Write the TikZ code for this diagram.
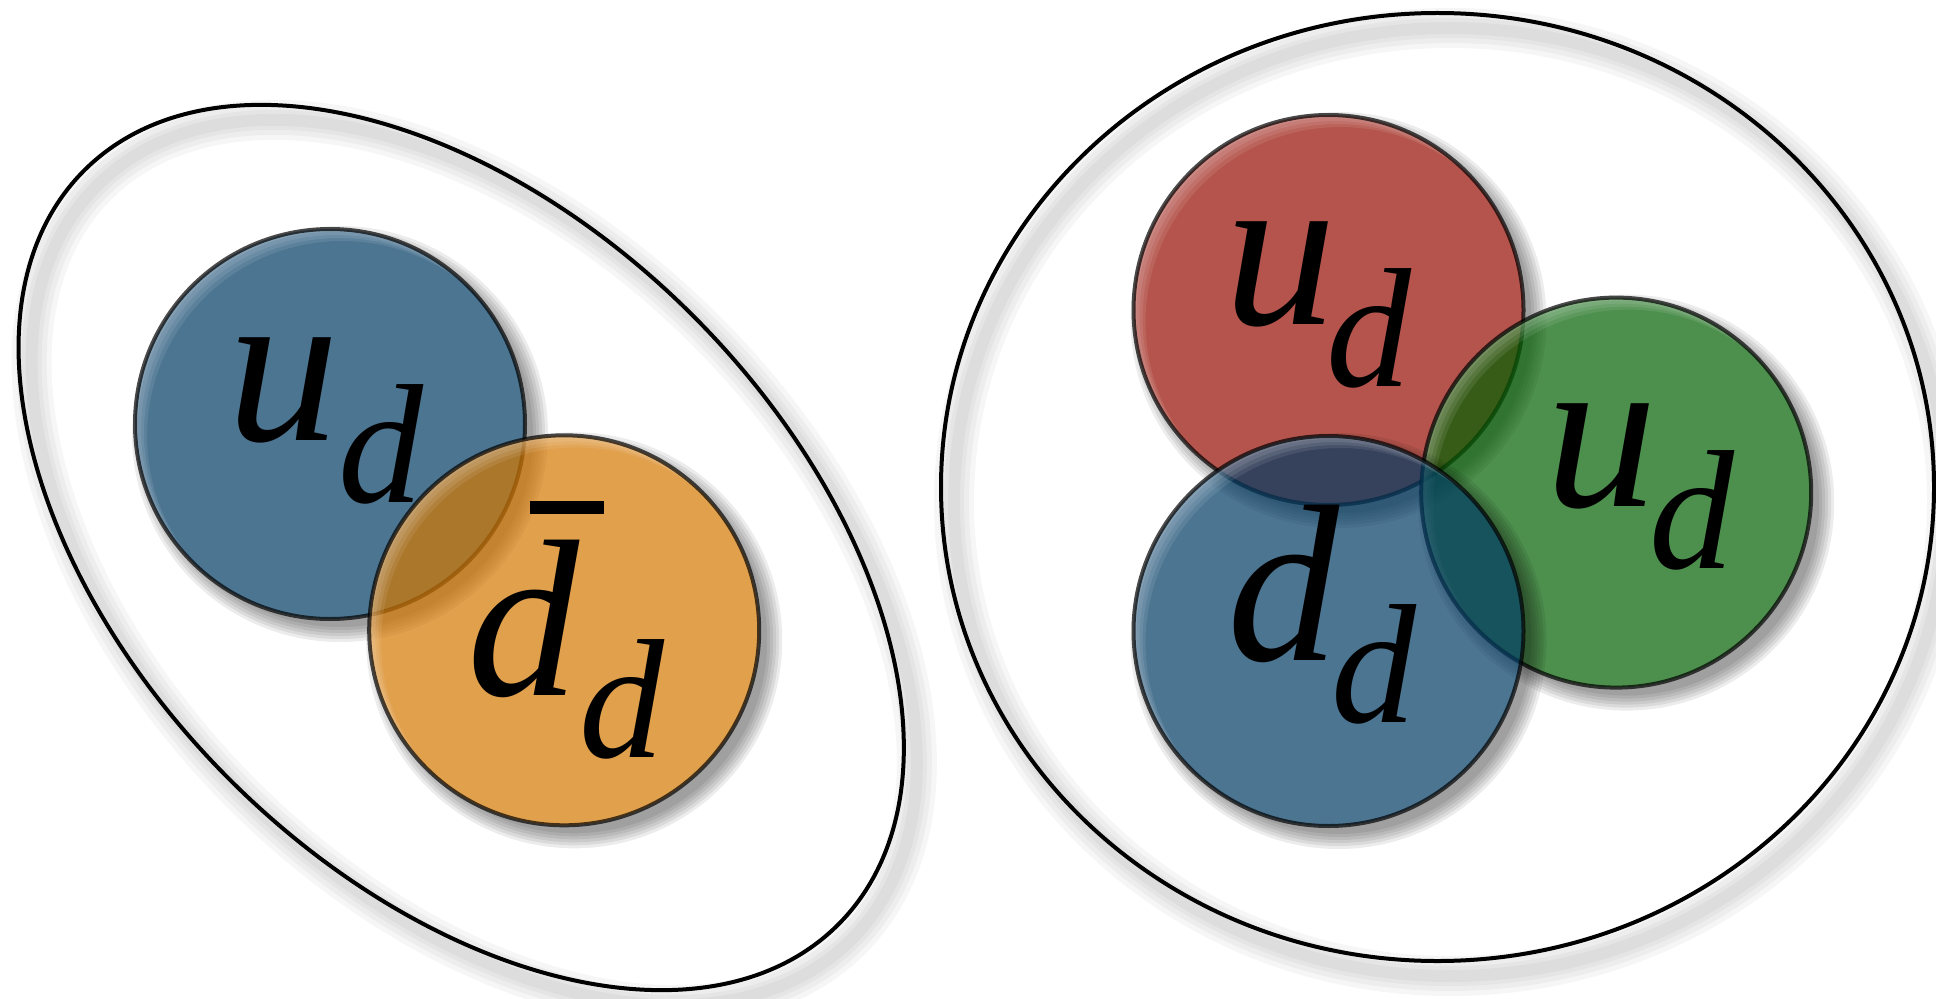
\documentclass[tikz,border=0pt]{standalone}
\usepackage{fontspec}
\setmainfont{Liberation Serif}

\definecolor{qblue}{RGB}{0,58,99}
\definecolor{qorange}{RGB}{211,119,0}
\definecolor{qred}{RGB}{149,12,0}
\definecolor{qgreen}{RGB}{2,95,2}

\newcommand\bigq{\fontsize{112}{112}\selectfont\itshape}
% subscript: #1 kern before it, #2 letter
\newcommand\subq[2]{\kern#1\raisebox{-31pt}{\fontsize{85}{85}\selectfont\itshape #2}}
\newcommand\discR{97.5}

% one translucent disc: soft outer shadow, fill, upper-left rim light, outline
\newcommand\quarkdisc[2]{%
  \begin{scope}
    \clip (-20,-20) -- (990,-20) -- (990,520) -- (-20,520) -- cycle
          (#1) ++(\discR,0) arc[start angle=0, end angle=-360, radius=\discR];
    \foreach \rr in {104,102.5,101,99.5,98,96.5}
      \fill[black, opacity=0.075] ([shift={(5,-5)}]#1) circle (\rr);
  \end{scope}
  \fill[#2, opacity=0.7] (#1) circle (\discR);
  \begin{scope}
    \clip (#1) circle (\discR);
    \foreach \s in {1.5,3,4.5,6}
      \fill[white, opacity=0.09, even odd rule]
        (#1) circle (\discR) ([shift={(\s,-\s)}]#1) circle (\discR);
  \end{scope}
  \draw[black, opacity=0.7, line width=2] (#1) circle (\discR);
}

\tikzset{
  ring/.style={black, line width=2},
  ringshade/.style={black, opacity=0.035},
  lbl/.style={anchor=base west, inner sep=0pt, text=black}
}

\begin{document}
\begin{tikzpicture}[x=1pt, y=1pt]
  \useasboundingbox (0,0) rectangle (968,499);

  % centres
  \coordinate (mesoncen) at (230.6,225.25);
  \coordinate (baryoncen) at (718.75,255.5);
  \coordinate (mu) at (165,287);
  \coordinate (md) at (282.1,183.85);
  \coordinate (bu1) at (664.25,344);
  \coordinate (bu2) at (808.1,252.7);
  \coordinate (bd) at (664.25,183.5);

  % left envelope, tilted
  \begin{scope}[shift={(237.1,217.75)}, rotate=-45]
    \foreach \w in {20,15,10,6}
      \draw[ringshade, line width=\w] (0,0) ellipse [x radius=266.6, y radius=163.9];
  \end{scope}
  \begin{scope}[shift={(230.6,225.25)}, rotate=-45]
    \draw[ring] (0,0) ellipse [x radius=266.6, y radius=163.9];
  \end{scope}

  % right envelope
  \begin{scope}[shift={(725.25,248)}]
    \foreach \w in {20,15,10,6}
      \draw[ringshade, line width=\w] (0,0) ellipse [x radius=248.25, y radius=237];
  \end{scope}
  \draw[ring] (baryoncen) ellipse [x radius=248.25, y radius=237];

  % meson
  \quarkdisc{mu}{qblue}
  \quarkdisc{md}{qorange}

  % baryon
  \quarkdisc{bu1}{qred}
  \quarkdisc{bu2}{qgreen}
  \quarkdisc{bd}{qblue}

  % labels
  \node[lbl] (lmu) at (113.3,278.65) {\bigq u\subq{-0.5pt}{d}};
  \node[lbl] (lmd) at (233.4,151.3)
    {\bigq\makebox[0pt][l]{\hspace*{31.35pt}\raisebox{90.55pt}{\rule{37pt}{6.85pt}}}d\subq{0pt}{d}};
  \node[lbl] (lbu1) at (612,337) {\bigq u\subq{-5pt}{d}};
  \node[lbl] (lbu2) at (772.5,245.75) {\bigq u\subq{-4pt}{d}};
  \node[lbl] (lbd) at (613.3,169) {\bigq d\subq{-4pt}{d}};
\end{tikzpicture}
\end{document}
